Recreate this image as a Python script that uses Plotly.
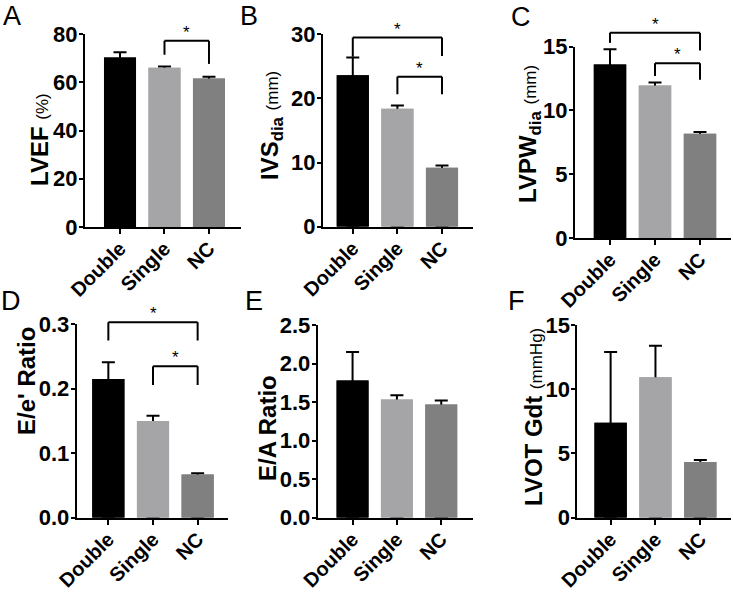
import plotly.graph_objects as go

W, H = 733, 593

categories = ["Double", "Single", "NC"]
bar_colors = ["#000000", "#a5a5a7", "#808080"]

lvef = [70.3, 66.0, 61.6]
lvef_err = [2.1, 0.5, 0.7]
ivs = [23.6, 18.4, 9.2]
ivs_err = [2.8, 0.5, 0.35]
lvpw = [13.6, 11.95, 8.18]
lvpw_err = [1.2, 0.25, 0.13]
ee = [0.215, 0.150, 0.067]
ee_err = [0.026, 0.008, 0.002]
ea = [1.78, 1.535, 1.47]
ea_err = [0.37, 0.055, 0.05]
lvot = [7.4, 10.93, 4.33]
lvot_err = [5.5, 2.45, 0.16]

# significance brackets: (from, to, top, left leg end, right leg end)
br_A = [(1, 2, 77.2, 71.4, 67.6)]
br_B = [(0, 2, 29.5, 26.5, 26.6), (1, 2, 23.4, 20.65, 20.65)]
br_C = [(0, 2, 16.1, 15.3, 14.7), (1, 2, 13.7, 12.7, 12.4)]
br_D = [(0, 2, 0.303, 0.275, 0.275), (1, 2, 0.235, 0.206, 0.206)]

FONT = "Liberation Sans, Arial, sans-serif"
UNIT = "<span style='font-size:17px;font-weight:normal'>{}</span>"

def fx(p):
    return p / W

def fy(p):
    return 1 - p / H

panels = [
    dict(letter="A", vals=lvef, err=lvef_err, ymax=80, dtick=20, fmt="d",
         xpx=(85, 241), ypx=(227, 34), xr=(-0.787, 2.72), br=br_A,
         title="LVEF " + UNIT.format("(%)"),
         tpos=(40, 140), lpos=(12, 16)),
    dict(letter="B", vals=ivs, err=ivs_err, ymax=30, dtick=10, fmt="d",
         xpx=(323, 473), ypx=(226.7, 34.3), xr=(-0.668, 2.695), br=br_B,
         title="IVS<sub>dia</sub> " + UNIT.format("(mm)"),
         tpos=(271, 126), lpos=(249, 16)),
    dict(letter="C", vals=lvpw, err=lvpw_err, ymax=15, dtick=5, fmt="d",
         xpx=(575, 731), ypx=(238, 46.7), xr=(-0.778, 2.689), br=br_C,
         title="LVPW<sub>dia</sub> " + UNIT.format("(mm)"),
         tpos=(529, 134), lpos=(521, 17)),
    dict(letter="D", vals=ee, err=ee_err, ymax=0.3, dtick=0.1, fmt=".1f",
         xpx=(76.7, 228), ypx=(517.7, 324.3), xr=(-0.709, 2.68), br=br_D,
         title="E/e' Ratio",
         tpos=(26, 381), lpos=(11, 301)),
    dict(letter="E", vals=ea, err=ea_err, ymax=2.5, dtick=0.5, fmt=".1f",
         xpx=(317.7, 472.7), ypx=(517.7, 325), xr=(-0.786, 2.709), br=[],
         title="E/A Ratio",
         tpos=(267, 428), lpos=(254, 301)),
    dict(letter="F", vals=lvot, err=lvot_err, ymax=15, dtick=5, fmt="d",
         xpx=(577.3, 730.7), ypx=(517.7, 325), xr=(-0.743, 2.678), br=[],
         title="LVOT Gdt " + UNIT.format("(mmHg)"),
         tpos=(533, 417), lpos=(516, 301)),
]

fig = go.Figure()
shapes = []
annotations = []
idx = list(range(len(categories)))

for k, p in enumerate(panels, start=1):
    xa = "x" if k == 1 else f"x{k}"
    ya = "y" if k == 1 else f"y{k}"
    # bars with error bars (upper only; lower part hidden under cover bars)
    fig.add_trace(go.Bar(
        x=idx, y=p["vals"], width=0.72, xaxis=xa, yaxis=ya,
        marker=dict(color=bar_colors, line=dict(width=0)),
        error_y=dict(type="data", symmetric=False, array=p["err"],
                     arrayminus=p["vals"], color="black", thickness=2, width=6.5),
        hoverinfo="skip", showlegend=False))
    fig.add_trace(go.Bar(
        x=idx, y=p["vals"], width=0.72, xaxis=xa, yaxis=ya,
        marker=dict(color=bar_colors, line=dict(width=0)),
        hoverinfo="skip", showlegend=False))

    xkey = "xaxis" if k == 1 else f"xaxis{k}"
    ykey = "yaxis" if k == 1 else f"yaxis{k}"
    fig.layout[xkey] = dict(
        domain=[fx(p["xpx"][0]), fx(p["xpx"][1])], range=list(p["xr"]),
        anchor=ya, showline=True, linecolor="black", linewidth=2,
        ticks="outside", ticklen=5, tickwidth=2, tickcolor="black",
        tickvals=idx, ticktext=categories, tickangle=-45, ticklabelstandoff=-5,
        tickfont=dict(family=FONT, size=20, color="black", weight="bold"),
        showgrid=False, zeroline=False, fixedrange=True, automargin=False)
    nt = int(round(p["ymax"] / p["dtick"]))
    tv = [i * p["dtick"] for i in range(nt + 1)]
    if p["fmt"] == "d":
        tt = [f"{v:.0f}" for v in tv]
    else:
        tt = [f"{v:.1f}" for v in tv]
    fig.layout[ykey] = dict(
        domain=[fy(p["ypx"][0]), fy(p["ypx"][1])], range=[0, p["ymax"]],
        anchor=xa, showline=True, linecolor="black", linewidth=2,
        ticks="outside", ticklen=4, tickwidth=2, tickcolor="black",
        tickvals=tv, ticktext=tt, ticklabelstandoff=-3,
        tickfont=dict(family=FONT, size=22, color="black", weight="bold"),
        showgrid=False, zeroline=False, fixedrange=True, automargin=False)

    ydom = ya + " domain"
    for (i, j, top, yl, yr) in p["br"]:
        t = top / p["ymax"]
        shapes.append(dict(type="line", xref=xa, yref=ydom, x0=i, x1=j, y0=t, y1=t,
                           line=dict(color="black", width=2)))
        shapes.append(dict(type="line", xref=xa, yref=ydom, x0=i, x1=i, y0=t,
                           y1=yl / p["ymax"], line=dict(color="black", width=2)))
        shapes.append(dict(type="line", xref=xa, yref=ydom, x0=j, x1=j, y0=t,
                           y1=yr / p["ymax"], line=dict(color="black", width=2)))
        annotations.append(dict(xref=xa, yref=ydom, x=(i + j) / 2, y=t, text="*",
                                showarrow=False, yanchor="bottom", yshift=-3,
                                font=dict(family=FONT, size=17, color="black")))

    annotations.append(dict(xref="paper", yref="paper", x=fx(p["tpos"][0]),
                            y=fy(p["tpos"][1]), text=p["title"], textangle=-90,
                            showarrow=False, xanchor="center", yanchor="middle",
                            font=dict(family=FONT, size=24, color="black", weight="bold")))
    annotations.append(dict(xref="paper", yref="paper", x=fx(p["lpos"][0]),
                            y=fy(p["lpos"][1]), text=p["letter"],
                            showarrow=False, xanchor="center", yanchor="middle",
                            font=dict(family=FONT, size=27, color="black")))

fig.update_layout(
    template="none",
    width=W, height=H, margin=dict(l=0, r=0, t=0, b=0, pad=0, autoexpand=False),
    paper_bgcolor="white", plot_bgcolor="white",
    barmode="overlay", showlegend=False,
    shapes=shapes, annotations=annotations,
    font=dict(family=FONT, color="black"))

fig.write_html(
    "out.html",
    config={"displayModeBar": False, "staticPlot": True},
    post_script="document.body.style.margin='0';document.body.style.padding='0';"
                "document.body.style.overflow='hidden';")
